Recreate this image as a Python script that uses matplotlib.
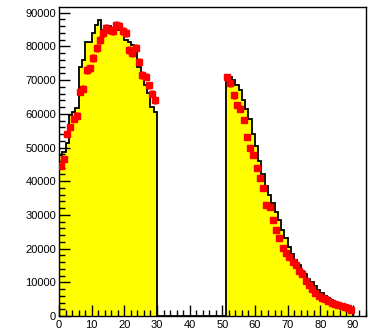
import numpy as np
import matplotlib.pyplot as plt
from matplotlib.ticker import MultipleLocator

# histogram contents, unit-width bins
low_bins = [47800, 48700, 51300, 59600, 60500, 61700, 73900, 76000, 81300, 81300,
            84000, 86300, 87800, 85000, 85500, 86000, 85500, 86000, 84900, 84000,
            82000, 81300, 80400, 79800, 73900, 71500, 68500, 66200, 62000, 60500]
high_bins = [71500, 71000, 70000, 68500, 67000, 64000, 61500, 58500, 54000, 50500,
             46000, 42000, 38500, 36000, 33500, 31000, 28500, 25500, 23000, 20500,
             18500, 16500, 15000, 13500, 12500, 11000, 10000, 9000, 7800, 6800,
             6000, 5300, 4600, 4000, 3500, 3000, 2600, 2200, 1800]
low_start, high_start = 0, 51

# measured points, one per bin
low_pts = [44500, 46500, 54000, 56000, 58500, 59500, 66500, 67500, 73000, 73500,
           76500, 79500, 82000, 84000, 85500, 85000, 84500, 86500, 86000, 84500,
           84000, 79000, 78000, 79500, 75500, 71500, 71000, 68500, 66000, 64000]
high_pts = [70900, 69000, 65500, 62600, 61500, 58200, 53100, 50000, 47800, 44000,
            41000, 38000, 33000, 32300, 28500, 25500, 23100, 20200, 18700, 17500,
            16000, 15000, 13500, 12500, 10500, 9200, 7900, 6800, 6000, 5400,
            4900, 4400, 4000, 3600, 3300, 3000, 2700, 2300, 1800]

edges = np.arange(0, 91)
counts = np.zeros(90)
counts[low_start:low_start + len(low_bins)] = low_bins
counts[high_start:high_start + len(high_bins)] = high_bins

x_low = np.arange(low_start, low_start + len(low_pts)) + 0.5
x_high = np.arange(high_start, high_start + len(high_pts)) + 0.5
xp = np.concatenate([x_low, x_high])
yp = np.array(low_pts + high_pts, dtype=float)
yerr = np.sqrt(yp) * 4

fig = plt.figure(figsize=(3.71, 3.34), dpi=100)
ax = fig.add_axes([59 / 371, 18 / 334, 307 / 371, 309 / 334])

ax.stairs(counts, edges, fill=True, color='#ffff00', zorder=1)
ax.stairs(counts, edges, color='black', linewidth=1.3, zorder=2)
ax.errorbar(xp, yp, xerr=0.6, yerr=yerr, fmt='s', color='red', ms=5,
            elinewidth=2.5, capsize=0, zorder=3)

ax.set_xlim(0, 94)
ax.set_ylim(0, 91700)
ax.xaxis.set_major_locator(MultipleLocator(10))
ax.xaxis.set_minor_locator(MultipleLocator(2))
ax.yaxis.set_major_locator(MultipleLocator(10000))
ax.yaxis.set_minor_locator(MultipleLocator(2000))
ax.tick_params(which='both', direction='in', top=False, right=False,
               labelsize=8, width=1)
ax.tick_params(axis='x', pad=3)
ax.tick_params(axis='y', pad=2)
ax.tick_params(which='major', length=8)
ax.tick_params(which='minor', length=4)
for lbl in ax.get_xticklabels() + ax.get_yticklabels():
    lbl.set_fontfamily('Liberation Sans')
for s in ax.spines.values():
    s.set_linewidth(1)

fig.savefig('out.png', dpi=100)
